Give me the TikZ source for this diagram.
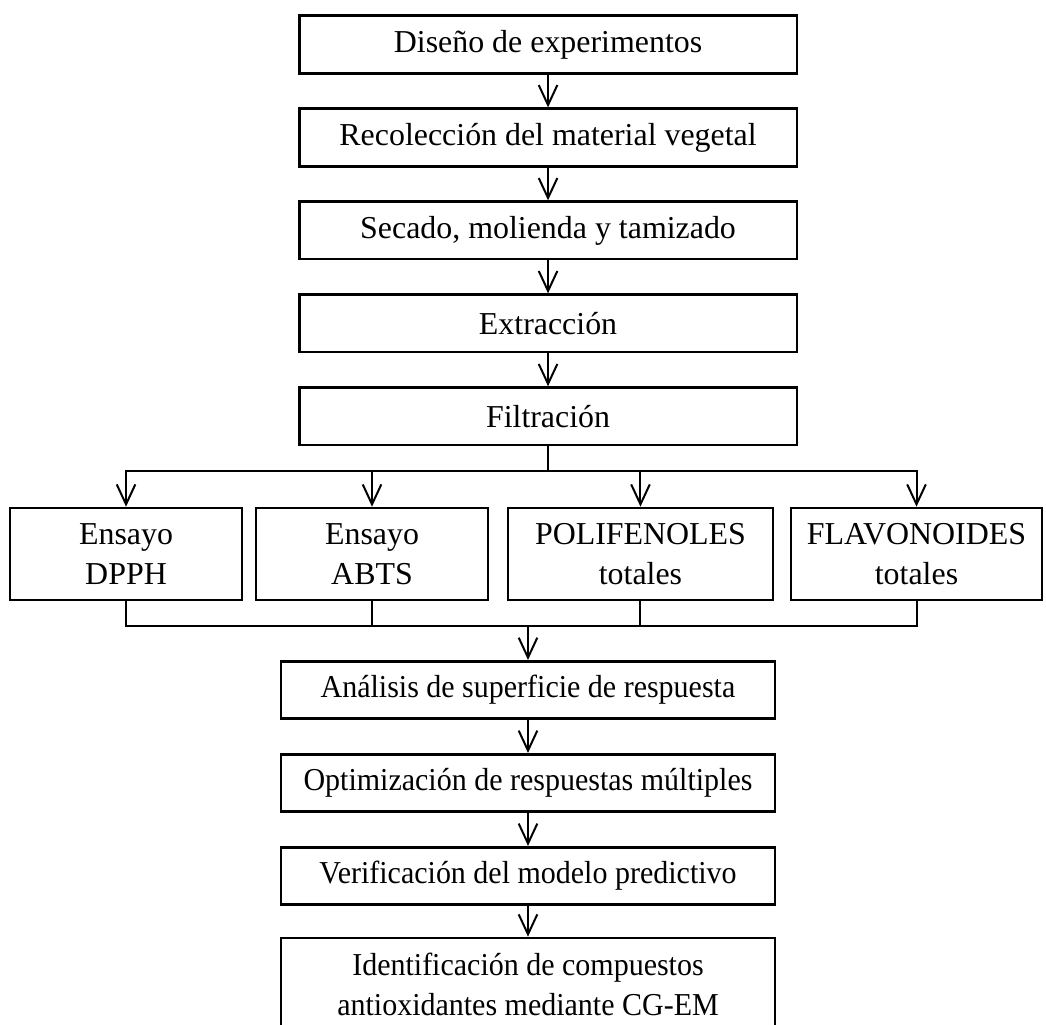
\documentclass[tikz,border=0pt]{standalone}
\usepackage{fontspec}
\setmainfont{Liberation Serif}
\newfontfamily\estrecha[FakeStretch=0.94]{Liberation Serif}
\usepackage{tikz}
\usetikzlibrary{arrows.meta}
\tikzstyle{paso} = [rectangle, minimum width=6.58cm, minimum height=0.76cm, draw=black, line width=1pt, align=center, font=\fontsize{12}{15}\selectfont]
\tikzstyle{ensayo} = [rectangle, minimum height=1.216cm, draw=black, line width=1pt, align=center, font=\fontsize{12}{15}\selectfont]
\tikzstyle{final} = [rectangle, minimum width=6.531cm, draw=black, line width=1pt, align=center, inner sep=2pt, font=\estrecha\fontsize{12}{15}\selectfont]
\tikzstyle{arrow} = [line width=0.75pt, -{Straight Barb[length=7.5pt,width=7pt]}]
\tikzstyle{linea} = [line width=0.75pt]

\begin{document}
\begin{tikzpicture}[node distance=1.229cm]
        \useasboundingbox (0,0) rectangle (13.828,-13.550);

        \node (dis) [paso] at (7.245,-0.588) {Diseño de experimentos};
        \node (rec) [paso, below of=dis] {Recolección del material vegetal};
        \node (sec) [paso, below of=rec] {Secado, molienda y tamizado};
        \node (ext) [paso, below of=sec] {Extracción};
        \node (filt) [paso, below of=ext] {Filtración};
        \node (ens1) [ensayo, minimum width=3.067cm, below of=filt, xshift=-5.579cm, yshift=-0.591cm] {Ensayo\\DPPH};
        \node (ens2) [ensayo, minimum width=3.067cm, below of=filt, xshift=-2.327cm, yshift=-0.591cm] {Ensayo\\ABTS};
        \node (ens3) [ensayo, minimum width=3.503cm, below of=filt, xshift=1.222cm, yshift=-0.591cm] {POLIFENOLES\\totales};
        \node (ens4) [ensayo, minimum width=3.318cm, below of=filt, xshift=4.871cm, yshift=-0.591cm] {FLAVONOIDES\\totales};
        \node (anal) [final, minimum height=0.76cm, below of=filt, xshift=-0.265cm, yshift=-2.389cm] {Análisis de superficie de respuesta};
        \node (opt) [final, minimum height=0.76cm, below of=anal] {Optimización de respuestas múltiples};
        \node (verif) [final, minimum height=0.76cm, below of=opt] {Verificación del modelo predictivo};
        \node (ident) [final, minimum height=1.216cm, below of=verif, yshift=-0.199cm] {Identificación de compuestos\\antioxidantes mediante CG-EM};

        \coordinate (rama) at ([yshift=-0.33cm]filt.south);
        \coordinate (union) at ([yshift=0.45cm]anal.north);

        \draw [arrow] (dis) -- (rec);
        \draw [arrow] (rec) -- (sec);
        \draw [arrow] (sec) -- (ext);
        \draw [arrow] (ext) -- (filt);
        \draw [linea] (filt) -- (rama);
        \draw [arrow] (rama) -| (ens1);
        \draw [arrow] (rama) -| (ens2);
        \draw [arrow] (rama) -| (ens3);
        \draw [arrow] (rama) -| (ens4);
        \draw [linea] (ens1) |- (union);
        \draw [linea] (ens2) |- (union);
        \draw [linea] (ens3) |- (union);
        \draw [linea] (ens4) |- (union);
        \draw [arrow] (union) -- (anal);
        \draw [arrow] (anal) -- (opt);
        \draw [arrow] (opt) -- (verif);
        \draw [arrow] (verif) -- (ident);
\end{tikzpicture}
\end{document}
